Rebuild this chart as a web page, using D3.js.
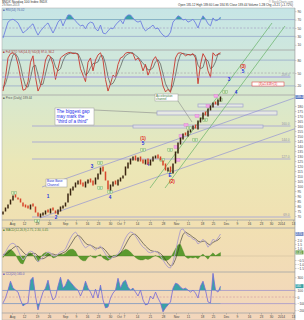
<!DOCTYPE html>
<html><head><meta charset="utf-8">
<script src="https://cdn.jsdelivr.net/npm/d3@7"></script>
<style>html,body{margin:0;padding:0;background:#fff;}svg{display:block}text{font-family:"Liberation Sans",Arial,sans-serif}</style>
</head><body><svg id="c" width="304" height="320"></svg>
<script>
// ---------------- DATA ----------------
const opens=[72,75,78,82,86,91,88,87,83,81,80,77,82,79,73,69,71,72,76,73,78,75,72,75,78,80,84,91,96,99,102,106,103,99,103,107,105,102,107,112,119,114,105,96,100,105,101,105,108,111,118,122,126,130,125,129,126,122,127,121,125,128,131,129,125,122,115,119,113,123,133,142,147,153,150,154,157,161,157,164,167,174,170,176,179,184,181,185];
const closes=[74,78,81,86,90,89,87,84,80,79,78,81,80,74,70,72,73,75,74,77,76,73,76,79,80,83,92,97,99,103,105,102,100,104,106,104,101,108,112,118,115,106,97,101,104,102,106,108,110,119,123,127,129,126,128,125,123,126,122,126,129,130,128,126,121,116,118,114,122,134,143,148,152,151,155,156,160,158,165,168,173,171,177,180,183,182,186,189];
const rsi=[26,45,64,69,71,67,62,50,38,43,48,55,60,45,33,43,50,57,62,50,38,50,64,71,55,69,81,81,74,67,60,55,57,48,60,64,62,48,43,57,38,36,43,50,48,57,64,69,60,76,81,81,74,67,64,67,52,43,48,52,57,48,50,40,33,29,31,40,64,71,79,76,69,71,64,67,71,62,50,67,79,71,60,55,74,67,69,76];
const stochK=[8,40,85,95,97,92,70,40,10,12,30,75,90,40,8,20,45,80,92,88,70,35,60,85,90,94,97,98,95,96,93,60,45,30,75,85,55,80,92,97,80,35,8,25,45,40,70,85,88,96,98,97,95,80,85,75,55,70,45,60,80,88,75,50,20,6,12,5,45,85,96,97,95,90,93,92,95,85,25,70,95,85,55,40,97,90,94,97];
const stochD=[15,25,45,73,92,95,86,67,40,20,17,39,65,68,46,23,24,48,72,87,83,64,55,60,78,90,94,96,97,96,95,83,66,45,50,63,72,73,76,90,90,71,41,23,26,37,52,65,81,90,94,97,97,91,87,80,72,67,57,58,62,76,81,71,48,25,13,8,21,45,75,93,96,94,93,92,93,91,68,60,63,83,78,60,64,76,94,94];
const macdLine=[0,0.5,1.1,1.5,1.6,1.4,0.75,0,-0.5,-0.1,0.4,0.6,0.5,-0.1,-0.75,-0.5,-0.1,0.25,0.5,0.4,0,0,0.25,0.5,0.6,0.9,1.6,2.25,2.75,3,2.6,2,1.4,1,1.25,1.4,1,0.75,1,1.25,0.75,0.25,-0.25,-0.4,-0.1,0,0.25,0.75,1.5,2.25,2.75,3,2.9,2.5,2,1.5,1.1,0.9,0.5,0.4,0.5,0.6,0.4,0,-0.5,-1,-1.4,-1.5,-0.75,0.5,2,3.25,3.4,2.9,2.5,2.4,2.1,2,1.5,1.75,2.1,1.75,1.1,1.5,2.1,1.9,2.25,2.75];
const macdSignal=[0.2,0.2,0.4,0.7,1.0,1.2,1.2,0.9,0.5,0.2,0.1,0.2,0.35,0.3,0.0,-0.3,-0.35,-0.2,0.05,0.25,0.25,0.15,0.15,0.25,0.4,0.55,0.9,1.4,1.9,2.4,2.6,2.4,2.0,1.6,1.4,1.35,1.2,1.0,0.95,1.05,1.0,0.7,0.3,-0.05,-0.15,-0.1,0.05,0.35,0.85,1.4,2.0,2.5,2.75,2.7,2.4,2.0,1.6,1.25,0.95,0.7,0.6,0.55,0.5,0.3,0.0,-0.45,-0.9,-1.25,-1.1,-0.4,0.6,1.8,2.7,3.0,2.8,2.6,2.35,2.15,1.85,1.75,1.85,1.85,1.5,1.4,1.7,1.85,2.0,2.3];
const macdHist=[-0.2,0.3,0.7,0.8,0.6,0.2,-0.45,-0.9,-1.0,-0.3,0.3,0.4,0.15,-0.4,-0.75,-0.2,0.25,0.45,0.45,0.15,-0.25,-0.15,0.1,0.25,0.2,0.35,0.7,0.85,0.85,0.6,0.0,-0.4,-0.6,-0.6,-0.15,0.05,-0.2,-0.25,0.05,0.2,-0.25,-0.45,-0.55,-0.35,0.05,0.1,0.2,0.4,0.65,0.85,0.75,0.5,0.15,-0.2,-0.4,-0.5,-0.5,-0.35,-0.45,-0.3,-0.1,0.05,-0.1,-0.3,-0.5,-0.55,-0.5,-0.25,0.35,0.9,1.4,1.45,0.7,-0.1,-0.3,-0.2,-0.25,-0.15,-0.35,0.0,0.25,-0.1,-0.4,0.1,0.4,0.05,0.25,0.45];
const cci=[-90,-15,105,240,135,105,75,-45,-135,-105,-90,255,300,15,-195,-45,75,135,255,75,-45,0,165,300,135,180,270,225,180,135,105,15,105,240,135,75,-15,120,-15,180,-45,-165,-150,-15,60,105,285,135,225,255,150,105,135,75,15,105,-45,-120,-105,15,-30,75,-15,-90,-225,-165,-120,-75,135,210,195,150,120,135,105,75,105,60,-15,165,240,105,-75,-90,360,105,75,165];
const dateTickIdx=[3.6,8.4,13.6,18.4,24.8,29.2,33.6,38,42.8,46.4,48.4,53.6,58.8,64,69.2,74,79.6,84,89.2,93.6,98.4,103.2,107.2,111.2,116];
const dateTickLabels=["Aug","12","19","26","Sep","9","16","23","30","Oct","7","14","21","28","Nov","11","18","25","Dec","9","16","23","30","2014","13"];
const priceTicks=d3.range(70,191,5);
const rsiTicks=[10,30,50,70,90];
const stochTicks=[20,50,80];
const macdTicks=[-1.5,-1,-0.5,0,0.5,1,1.5,2,2.5,3];
const cciTicks=[-200,-100,0,100,200,300];
// annotations [barIndex, price]
const levelLines=[{i0:11.6,i1:115,p:144,lab:"144.0"},{i0:11.6,i1:115,p:127,lab:"127.0"},{i0:11.6,i1:115,p:69,lab:"69.0"},{i0:11.6,i1:115,p:160,lab:"160.0"},{i0:-1,i1:115,p:209,lab:"209.0",purple:true}];
const gapBoxes=[{i0:61.6,i1:109.6,p0:171,p1:175},{i0:52,i1:104,p0:158,p1:161},{i0:78,i1:96,p0:179,p1:182}];
const trendLines=[{a:[15.6,99],b:[117.6,189],c:"#9494d4"},{a:[14.8,68],b:[117.6,158],c:"#9494d4"},{a:[58.8,98],b:[107.6,263],c:"#66b266"},{a:[64.8,98],b:[112.8,260],c:"#66b266"}];
const waveLabels=[{i:96,p:218,t:"(3)",c:"#e02020"},{i:96,p:213,t:"5",c:"#2030e0"},{i:90.4,p:205,t:"3",c:"#2030e0"},{i:93.2,p:192,t:"4",c:"#2030e0"},{i:56,p:146,t:"(1)",c:"#e02020"},{i:56,p:141,t:"5",c:"#2030e0"},{i:67.6,p:103,t:"(2)",c:"#e02020"},{i:66.8,p:109,t:"E",c:"#2030e0"},{i:35.6,p:118,t:"3",c:"#2030e0"},{i:42.8,p:87,t:"4",c:"#2030e0"},{i:21.2,p:67,t:"2",c:"#2030e0"},{i:18,p:88,t:"1",c:"#2030e0"},{i:58,p:120,t:"4",c:"#2030e0"}];
const pinkTags=[[71.2,150],[69.2,139],[73.2,161],[77.6,170],[82,180],[85.2,190],[70,126]];
const greenTags=[[74.4,158],[80.8,166],[86.8,186],[66.8,136],[76.8,146],[63.6,126],[88.8,194],[4.4,93],[13.6,65],[38.8,123],[38.8,98],[56,136],[42.8,94],[66.8,114]];

// ---------------- LAYOUT ----------------
const svg=d3.select("#c");
const L=2,R=295;
const X=d3.scaleLinear().domain([0,117]).range([3,295.5]);
const yR=d3.scaleLinear().domain([0,100]).range([49,7]);
const yS=d3.scaleLinear().domain([0,100]).range([94.5,51.5]);
const yP=d3.scaleLinear().domain([66,191]).range([220,95]);
const yM=d3.scaleLinear().domain([-2,3.5]).range([272,228]);
const yC=d3.scaleLinear().domain([-250,380]).range([313.5,272]);
const idx=d3.range(closes.length);
const last=closes.length-1;

const defs=svg.append("defs");
const g=defs.append("linearGradient").attr("id","bg").attr("x1",0).attr("y1",0).attr("x2",0).attr("y2",1);
[[0,"#c6e5e6"],[0.15,"#cfe7dc"],[0.3,"#d9e8cc"],[0.5,"#ebe7b6"],[0.7,"#f1e0b2"],[1,"#f3d6bc"]].forEach(s=>g.append("stop").attr("offset",s[0]).attr("stop-color",s[1]));
defs.append("clipPath").attr("id","all").append("rect").attr("x",L).attr("y",8).attr("width",R-L).attr("height",305);
defs.append("clipPath").attr("id","rsiUp").append("rect").attr("x",L).attr("y",8).attr("width",R-L).attr("height",yR(70)-8);
defs.append("clipPath").attr("id","cciUp").append("rect").attr("x",L).attr("y",272).attr("width",R-L).attr("height",yC(100)-272);
defs.append("clipPath").attr("id","cciDn").append("rect").attr("x",L).attr("y",yC(-100)).attr("width",R-L).attr("height",313-yC(-100));

svg.append("rect").attr("x",L).attr("y",8).attr("width",R-L).attr("height",312).attr("fill","url(#bg)");

[[8,50],[50,95],[95,220],[220,228],[228,272],[272,313],[313,320]].forEach(p=>{
  svg.append("rect").attr("x",L).attr("y",p[0]).attr("width",R-L).attr("height",p[1]-p[0]).attr("fill","none").attr("stroke","#a9a9a9").attr("stroke-width",0.5);
});

function hline(y,color,dash,w){svg.append("line").attr("x1",L).attr("x2",R).attr("y1",y).attr("y2",y).attr("stroke",color).attr("stroke-width",w||0.8).attr("stroke-dasharray",dash||null);}
hline(yR(70),"#97a9cc");hline(yR(30),"#97a9cc");hline(yR(50),"#a8a8c8","2,1.5");
hline(yS(80),"#97a9cc");hline(yS(20),"#97a9cc");hline(yS(50),"#b0b0b0","2,1.5");
hline(yM(0),"#c8b898",null,0.5);
hline(yC(100),"#a294cc");hline(yC(-100),"#a294cc");hline(yC(0),"#d8a8a8","2,1.5");

// RSI
svg.append("path").datum(idx).attr("clip-path","url(#rsiUp)").attr("fill","#3a9fa8")
  .attr("d",d3.area().x(i=>X(i)).y0(yR(70)).y1(i=>yR(rsi[i])));
svg.append("path").datum(idx).attr("fill","none").attr("stroke","#6f7fe0").attr("stroke-width",0.9)
  .attr("d",d3.line().x(i=>X(i)).y(i=>yR(rsi[i])));

// STOCH
svg.append("path").datum(idx).attr("fill","none").attr("stroke","#3a3a3a").attr("stroke-width",0.6)
  .attr("d",d3.line().x(i=>X(i)).y(i=>yS(stochD[i])));
svg.append("path").datum(idx).attr("fill","none").attr("stroke","#c8362c").attr("stroke-width",0.9)
  .attr("d",d3.line().x(i=>X(i)).y(i=>yS(stochK[i])));

// MAIN annotations
const ann=svg.append("g").attr("clip-path","url(#all)");
levelLines.forEach(l=>{
  ann.append("line").attr("x1",X(l.i0)).attr("x2",X(l.i1)).attr("y1",yP(l.p)).attr("y2",yP(l.p))
    .attr("stroke",l.purple?"#9a8ce0":"#aeaed2").attr("stroke-width",l.purple?0.9:1.2);
  ann.append("text").attr("x",X(l.i1)-1).attr("y",yP(l.p)-0.8).attr("text-anchor","end").attr("font-size",3.2).attr("fill","#9090a8").text(l.lab);
});
gapBoxes.forEach(b=>{
  ann.append("rect").attr("x",X(b.i0)).attr("y",yP(b.p1)).attr("width",X(b.i1)-X(b.i0)).attr("height",yP(b.p0)-yP(b.p1))
    .attr("fill","#eceaf4").attr("fill-opacity",0.6).attr("stroke","#9ea2cc").attr("stroke-width",0.7);
});
trendLines.forEach(t=>{
  ann.append("line").attr("x1",X(t.a[0])).attr("y1",yP(t.a[1])).attr("x2",X(t.b[0])).attr("y2",yP(t.b[1])).attr("stroke",t.c).attr("stroke-width",0.7);
});

const cw=1.5;
svg.append("g").selectAll("rect").data(idx).join("rect")
  .attr("x",i=>X(i)-cw/2).attr("width",cw)
  .attr("y",i=>yP(Math.max(opens[i],closes[i]))-0.5)
  .attr("height",i=>Math.abs(yP(opens[i])-yP(closes[i]))+1)
  .attr("fill",i=>closes[i]>=opens[i]?"#3a2410":"#d8442a");

pinkTags.forEach(t=>{ann.append("rect").attr("x",X(t[0])-2).attr("y",yP(t[1])-1.5).attr("width",4).attr("height",3).attr("fill","#f2a6e6").attr("stroke","#d070c8").attr("stroke-width",0.3);});
greenTags.forEach(t=>{ann.append("rect").attr("x",X(t[0])-2.2).attr("y",yP(t[1])-1.6).attr("width",4.4).attr("height",3.2).attr("fill","#d8eec4").attr("stroke","#70a860").attr("stroke-width",0.4);
  ann.append("text").attr("x",X(t[0])).attr("y",yP(t[1])+1).attr("text-anchor","middle").attr("font-size",2.6).attr("fill","#3a7a30").text("iii");});
waveLabels.forEach(w=>{ann.append("text").attr("x",X(w.i)).attr("y",yP(w.p)).attr("text-anchor","middle").attr("font-size",4.6).attr("font-weight","bold").attr("fill",w.c).text(w.t);});

const gb={i0:20.8,i1:36.4,p0:161,p1:178};
ann.append("line").attr("x1",X(gb.i1)).attr("y1",yP(176)).attr("x2",X(61.6)).attr("y2",yP(173)).attr("stroke","#8a8a8a").attr("stroke-width",0.6);
ann.append("rect").attr("x",X(gb.i0)).attr("y",yP(gb.p1)).attr("width",X(gb.i1)-X(gb.i0)).attr("height",yP(gb.p0)-yP(gb.p1)).attr("fill","#fff").attr("stroke","#999").attr("stroke-width",0.5);
["The biggest gap","may mark the","\"third of a third\""].forEach((s,k)=>{
  ann.append("text").attr("x",X(gb.i0)+1.5).attr("y",yP(gb.p1)+5+k*5.2).attr("font-size",4.6).attr("fill","#1e2ee8").text(s);});
const ab={i0:60.8,i1:70,p0:185,p1:192};
ann.append("line").attr("x1",X(ab.i1)).attr("y1",yP(ab.p0)).attr("x2",X(75.6)).attr("y2",yP(164)).attr("stroke","#8a8a8a").attr("stroke-width",0.6);
ann.append("rect").attr("x",X(ab.i0)).attr("y",yP(ab.p1)).attr("width",X(ab.i1)-X(ab.i0)).attr("height",yP(ab.p0)-yP(ab.p1)).attr("fill","#fff").attr("stroke","#999").attr("stroke-width",0.5);
["Acceleration","channel"].forEach((s,k)=>{ann.append("text").attr("x",X(ab.i0)+1).attr("y",yP(ab.p1)+3.2+k*3.2).attr("font-size",3).attr("fill","#407a40").text(s);});
const bb={i0:17.2,i1:25.6,p0:99,p1:107};
ann.append("rect").attr("x",X(bb.i0)).attr("y",yP(bb.p1)).attr("width",X(bb.i1)-X(bb.i0)).attr("height",yP(bb.p0)-yP(bb.p1)).attr("fill","#fff").attr("stroke","#999").attr("stroke-width",0.5);
["Base Base","Channel"].forEach((s,k)=>{ann.append("text").attr("x",X(bb.i0)+1).attr("y",yP(bb.p1)+3.4+k*3.4).attr("font-size",3.2).attr("fill","#2030d0").text(s);});
const rb={i0:99.6,i1:112.4,p0:200,p1:204};
ann.append("rect").attr("x",X(rb.i0)).attr("y",yP(rb.p1)).attr("width",X(rb.i1)-X(rb.i0)).attr("height",yP(rb.p0)-yP(rb.p1)).attr("fill","#fff").attr("stroke","#e03030").attr("stroke-width",0.5);
ann.append("text").attr("x",(X(rb.i0)+X(rb.i1))/2).attr("y",yP(rb.p0)-0.9).attr("text-anchor","middle").attr("font-size",3).attr("fill","#e02020").text("(3)=1.618×(1)");

// MACD
svg.append("path").datum(idx).attr("fill","#5c9a2e").attr("stroke","#3e7a1e").attr("stroke-width",0.3)
  .attr("d",d3.area().x(i=>X(i)).y0(yM(0)).y1(i=>yM(macdHist[i])));
svg.append("path").datum(idx).attr("fill","none").attr("stroke","#303030").attr("stroke-width",0.6)
  .attr("d",d3.line().x(i=>X(i)).y(i=>yM(macdSignal[i])));
svg.append("path").datum(idx).attr("fill","none").attr("stroke","#b4a4c8").attr("stroke-width",1)
  .attr("d",d3.line().x(i=>X(i)).y(i=>yM(macdLine[i])));

// CCI
svg.append("path").datum(idx).attr("clip-path","url(#cciUp)").attr("fill","#3aa2a6").attr("d",d3.area().x(i=>X(i)).y0(yC(100)).y1(i=>yC(cci[i])));
svg.append("path").datum(idx).attr("clip-path","url(#cciDn)").attr("fill","#3aa2a6").attr("d",d3.area().x(i=>X(i)).y0(yC(-100)).y1(i=>yC(cci[i])));
svg.append("path").datum(idx).attr("fill","none").attr("stroke","#7468d8").attr("stroke-width",0.8)
  .attr("d",d3.line().x(i=>X(i)).y(i=>yC(cci[i])));

// AXES
svg.append("rect").attr("x",R+0.3).attr("y",0).attr("width",304-R).attr("height",320).attr("fill","#fff");
function styleAxis(sel){sel.selectAll("text").attr("font-size",3.3).attr("fill","#444");sel.selectAll("line").attr("stroke","#888").attr("stroke-width",0.4);sel.select(".domain").attr("stroke","#999").attr("stroke-width",0.5);}
const tags=[{s:yP,v:closes[last],fill:"#5a78c0",t:"189.0"},{s:yM,v:macdLine[last],fill:"#7a90c8",t:"2.75"},{s:yM,v:macdHist[last],fill:"#6aa050",t:"0.45"},{s:yC,v:cci[last],fill:"#3aa2a6",t:"165"}];
function rightAxis(scale,ticks,fmt){
  const tagYs=tags.filter(t=>t.s===scale).map(t=>t.s(t.v));
  const tv=ticks.filter(v=>tagYs.every(ty=>Math.abs(scale(v)-ty)>4.2));
  const a=svg.append("g").attr("transform",`translate(${R},0)`).call(d3.axisRight(scale).tickValues(tv).tickSize(1.5).tickPadding(1).tickFormat(fmt||d3.format("d")));
  styleAxis(a);a.select(".domain").remove();}
rightAxis(yR,rsiTicks);rightAxis(yS,stochTicks);rightAxis(yP,priceTicks);rightAxis(yM,macdTicks,d3.format(".1f"));rightAxis(yC,cciTicks);
svg.append("line").attr("x1",R).attr("x2",R).attr("y1",8).attr("y2",320).attr("stroke","#999").attr("stroke-width",0.5);
[220,313].forEach(y0=>{
  const a=svg.append("g").attr("transform",`translate(0,${y0})`).call(d3.axisBottom(X).tickValues(dateTickIdx).tickSize(1.6).tickPadding(0.8).tickFormat((d,k)=>dateTickLabels[k]));
  styleAxis(a);a.select(".domain").remove();a.selectAll("text").attr("font-size",3.2);
});
tags.forEach(t=>{const y=t.s(t.v);
  svg.append("rect").attr("x",R+0.5).attr("y",y-2).attr("width",8).attr("height",4).attr("fill",t.fill);
  svg.append("text").attr("x",R+1).attr("y",y+1.2).attr("font-size",3).attr("fill","#fff").text(t.t);});

// TITLES
function txt(x,y,s,size,fill,anchor){svg.append("text").attr("x",x).attr("y",y).attr("font-size",size).attr("fill",fill).attr("text-anchor",anchor||"start").text(s);}
txt(2,3,"$NDX Nasdaq 100 Index  INDX",3.3,"#333");
txt(2,6.4,"29-Nov-2013",3,"#666");
txt(293,2.6,"© StockCharts.com",2.8,"#888","end");
txt(293,6.3,"Open 185.12 High 189.60 Low 184.95 Close 189.44 Volume 1.2B Chg +3.21 (+1.72%)",3,"#333","end");
txt(3,11.2,"■ RSI(14) 76.02",3,"#5566aa");
txt(3,53.4,"■ Full STO %K(14,3) %D(3) 97.0, 94.2",3,"#aa3030");
txt(3,98.6,"■ Price (Daily) 189.44",3,"#555");
txt(3,231.4,"■ MACD(12,26,9) 2.75, 2.30, 0.45",3,"#4a7a30");
txt(3,275.4,"■ CCI(20) 165.0",3,"#5a50c0");
</script></body></html>
